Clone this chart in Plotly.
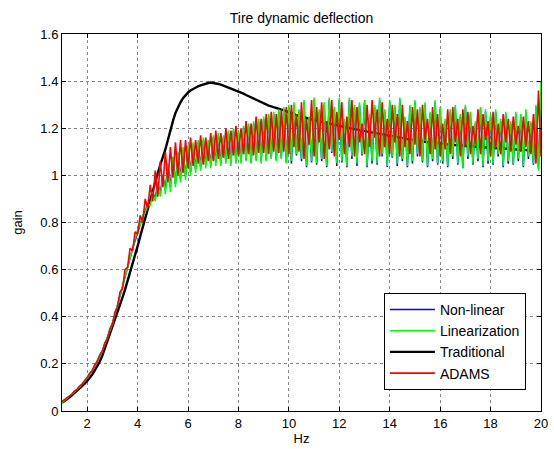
import plotly.graph_objects as go

# Frequency grid (Hz), 0.1 Hz spacing from 1 to 20
FREQ = [round(1 + 0.1 * i, 1) for i in range(191)]

NON_LINEAR = [
    0.037, 0.045, 0.053, 0.062, 0.071, 0.081, 0.091, 0.102, 0.114, 0.127,
    0.141, 0.156, 0.173, 0.191, 0.211, 0.233, 0.257, 0.283, 0.311, 0.341,
    0.372, 0.408, 0.446, 0.485, 0.525, 0.566, 0.607, 0.648, 0.688, 0.722,
    0.760, 0.795, 0.825, 0.850, 0.875, 0.890, 0.925, 0.905, 0.965, 0.925,
    1.000, 0.940, 1.045, 0.950, 1.075, 0.965, 1.095, 0.985, 1.110, 0.995,
    1.120, 1.015, 1.130, 1.025, 1.140, 1.035, 1.150, 1.045, 1.140, 1.045,
    1.160, 1.055, 1.170, 1.050, 1.160, 1.060, 1.180, 1.055, 1.190, 1.060,
    1.180, 1.060, 1.200, 1.065, 1.210, 1.055, 1.220, 1.065, 1.230, 1.060,
    1.240, 1.065, 1.250, 1.075, 1.260, 1.065, 1.270, 1.075, 1.280, 1.055,
    1.290, 1.050, 1.300, 1.085, 1.270, 1.060, 1.310, 1.035, 1.240, 1.055,
    1.320, 1.045, 1.270, 1.060, 1.300, 1.035, 1.320, 1.095, 1.280, 1.040,
    1.320, 1.055, 1.230, 1.035, 1.320, 1.070, 1.290, 1.040, 1.300, 1.085,
    1.310, 1.035, 1.250, 1.050, 1.290, 1.045, 1.320, 1.080, 1.270, 1.035,
    1.310, 1.075, 1.290, 1.040, 1.320, 1.060, 1.240, 1.035, 1.290, 1.050,
    1.310, 1.080, 1.280, 1.055, 1.300, 1.035, 1.260, 1.060, 1.310, 1.045,
    1.280, 1.050, 1.230, 1.035, 1.270, 1.070, 1.290, 1.045, 1.250, 1.030,
    1.290, 1.070, 1.260, 1.045, 1.220, 1.060, 1.280, 1.035, 1.270, 1.050,
    1.250, 1.045, 1.270, 1.080, 1.230, 1.035, 1.260, 1.050, 1.220, 1.045,
    1.260, 1.060, 1.250, 1.035, 1.270, 1.070, 1.220, 1.045, 1.290, 1.030,
    1.370,
]

LINEARIZATION = [
    0.035, 0.044, 0.052, 0.061, 0.070, 0.080, 0.090, 0.101, 0.113, 0.126,
    0.140, 0.155, 0.172, 0.190, 0.210, 0.232, 0.256, 0.282, 0.310, 0.340,
    0.370, 0.410, 0.450, 0.490, 0.530, 0.575, 0.620, 0.660, 0.700, 0.735,
    0.770, 0.790, 0.830, 0.840, 0.880, 0.870, 0.930, 0.890, 0.970, 0.910,
    1.000, 0.920, 1.050, 0.930, 1.080, 0.950, 1.100, 0.970, 1.120, 0.980,
    1.130, 1.000, 1.140, 1.010, 1.150, 1.020, 1.160, 1.030, 1.150, 1.030,
    1.170, 1.040, 1.180, 1.040, 1.170, 1.050, 1.190, 1.040, 1.200, 1.050,
    1.190, 1.050, 1.210, 1.060, 1.220, 1.050, 1.230, 1.060, 1.240, 1.050,
    1.250, 1.060, 1.260, 1.070, 1.270, 1.060, 1.280, 1.070, 1.290, 1.050,
    1.300, 1.060, 1.310, 1.090, 1.280, 1.070, 1.320, 1.040, 1.250, 1.060,
    1.330, 1.050, 1.280, 1.070, 1.310, 1.040, 1.330, 1.100, 1.290, 1.050,
    1.330, 1.060, 1.240, 1.040, 1.330, 1.080, 1.300, 1.050, 1.310, 1.090,
    1.320, 1.040, 1.260, 1.060, 1.300, 1.050, 1.330, 1.090, 1.280, 1.040,
    1.320, 1.080, 1.300, 1.050, 1.330, 1.070, 1.250, 1.040, 1.300, 1.060,
    1.320, 1.090, 1.290, 1.060, 1.310, 1.040, 1.270, 1.070, 1.320, 1.050,
    1.290, 1.060, 1.240, 1.040, 1.280, 1.080, 1.300, 1.050, 1.260, 1.030,
    1.300, 1.080, 1.270, 1.050, 1.230, 1.070, 1.290, 1.040, 1.280, 1.060,
    1.260, 1.050, 1.280, 1.090, 1.240, 1.040, 1.270, 1.060, 1.230, 1.050,
    1.270, 1.070, 1.260, 1.040, 1.280, 1.080, 1.230, 1.050, 1.300, 1.020,
    1.400,
]

TRADITIONAL = [
    0.035, 0.042, 0.050, 0.058, 0.067, 0.076, 0.085, 0.095, 0.105, 0.116,
    0.127, 0.140, 0.155, 0.172, 0.190, 0.210, 0.235, 0.265, 0.295, 0.325,
    0.355, 0.385, 0.415, 0.448, 0.482, 0.515, 0.550, 0.585, 0.620, 0.660,
    0.700, 0.740, 0.780, 0.815, 0.855, 0.895, 0.935, 0.975, 1.010, 1.045,
    1.075, 1.110, 1.150, 1.195, 1.230, 1.265, 1.290, 1.310, 1.328, 1.342,
    1.352, 1.360, 1.367, 1.373, 1.378, 1.382, 1.386, 1.389, 1.392, 1.394,
    1.393, 1.391, 1.388, 1.385, 1.381, 1.377, 1.373, 1.369, 1.366, 1.362,
    1.358, 1.352, 1.347, 1.341, 1.336, 1.330, 1.325, 1.320, 1.314, 1.309,
    1.304, 1.300, 1.296, 1.293, 1.289, 1.286, 1.282, 1.279, 1.276, 1.273,
    1.268, 1.264, 1.260, 1.256, 1.252, 1.249, 1.246, 1.243, 1.240, 1.237,
    1.234, 1.231, 1.229, 1.227, 1.225, 1.223, 1.221, 1.219, 1.216, 1.214,
    1.211, 1.208, 1.205, 1.202, 1.200, 1.198, 1.196, 1.194, 1.192, 1.189,
    1.187, 1.185, 1.183, 1.181, 1.179, 1.177, 1.175, 1.173, 1.171, 1.169,
    1.167, 1.165, 1.163, 1.160, 1.158, 1.157, 1.155, 1.153, 1.152, 1.150,
    1.148, 1.147, 1.145, 1.144, 1.142, 1.141, 1.139, 1.138, 1.137, 1.135,
    1.134, 1.133, 1.132, 1.131, 1.130, 1.129, 1.128, 1.127, 1.126, 1.125,
    1.124, 1.123, 1.122, 1.122, 1.121, 1.120, 1.119, 1.119, 1.118, 1.117,
    1.117, 1.116, 1.116, 1.115, 1.115, 1.114, 1.113, 1.113, 1.112, 1.111,
    1.110, 1.110, 1.109, 1.108, 1.107, 1.106, 1.105, 1.104, 1.103, 1.102,
    1.101,
]

ADAMS = [
    0.040, 0.048, 0.055, 0.066, 0.072, 0.085, 0.092, 0.106, 0.114, 0.130,
    0.142, 0.160, 0.172, 0.195, 0.208, 0.238, 0.252, 0.290, 0.305, 0.350,
    0.368, 0.420, 0.440, 0.505, 0.520, 0.600, 0.610, 0.690, 0.680, 0.760,
    0.750, 0.830, 0.800, 0.900, 0.860, 0.960, 0.890, 1.020, 0.910, 1.060,
    0.950, 1.100, 0.970, 1.120, 0.990, 1.140, 1.000, 1.150, 1.010, 1.150,
    1.030, 1.160, 1.040, 1.150, 1.050, 1.170, 1.045, 1.160, 1.060, 1.180,
    1.060, 1.190, 1.070, 1.180, 1.075, 1.200, 1.070, 1.190, 1.085, 1.210,
    1.085, 1.200, 1.090, 1.230, 1.090, 1.220, 1.085, 1.250, 1.095, 1.240,
    1.095, 1.260, 1.090, 1.270, 1.100, 1.260, 1.095, 1.280, 1.100, 1.290,
    1.090, 1.300, 1.120, 1.260, 1.100, 1.310, 1.070, 1.240, 1.130, 1.320,
    1.080, 1.290, 1.140, 1.310, 1.070, 1.230, 1.110, 1.320, 1.080, 1.270,
    1.150, 1.310, 1.090, 1.250, 1.120, 1.320, 1.080, 1.290, 1.140, 1.220,
    1.090, 1.300, 1.120, 1.320, 1.160, 1.280, 1.080, 1.310, 1.120, 1.240,
    1.090, 1.300, 1.140, 1.260, 1.080, 1.300, 1.120, 1.230, 1.090, 1.290,
    1.130, 1.280, 1.080, 1.300, 1.150, 1.240, 1.090, 1.290, 1.110, 1.260,
    1.080, 1.220, 1.110, 1.280, 1.090, 1.290, 1.140, 1.240, 1.080, 1.280,
    1.120, 1.270, 1.090, 1.210, 1.130, 1.280, 1.090, 1.260, 1.150, 1.230,
    1.080, 1.270, 1.110, 1.220, 1.090, 1.260, 1.140, 1.240, 1.100, 1.250,
    1.130, 1.210, 1.100, 1.250, 1.120, 1.230, 1.090, 1.260, 1.050, 1.360,
    1.080,
]

X_TICKS = [2, 4, 6, 8, 10, 12, 14, 16, 18, 20]

for arr in (NON_LINEAR, LINEARIZATION, TRADITIONAL, ADAMS):
    assert len(arr) == len(FREQ), len(arr)

FONT = "Liberation Sans, Arial, sans-serif"

fig = go.Figure()
# drawing order: blue, black, green, red (legend order fixed via legendrank)
fig.add_trace(go.Scatter(x=FREQ, y=NON_LINEAR, name="Non-linear", mode="lines",
                         legendrank=1, line=dict(color="#0000ff", width=1.5)))
fig.add_trace(go.Scatter(x=FREQ, y=TRADITIONAL, name="Traditional", mode="lines",
                         legendrank=3, line=dict(color="#000000", width=2.4)))
fig.add_trace(go.Scatter(x=FREQ, y=LINEARIZATION, name="Linearization", mode="lines",
                         legendrank=2, line=dict(color="#00ff00", width=1.5)))
fig.add_trace(go.Scatter(x=FREQ, y=ADAMS, name="ADAMS", mode="lines",
                         legendrank=4, line=dict(color="#ff0000", width=1.6)))

axis_common = dict(
    showline=True, linecolor="black", linewidth=1, mirror="allticks",
    ticks="inside", ticklen=4, tickcolor="black",
    showgrid=True, gridcolor="#858585", griddash="dot", gridwidth=1,
    zeroline=False, automargin=False,
    tickfont=dict(family=FONT, size=13, color="black"),
)

fig.update_layout(
    width=554, height=449,
    margin=dict(l=62, r=13, t=34, b=38),
    paper_bgcolor="white", plot_bgcolor="white",
    font=dict(family=FONT, size=13, color="black"),
    title=dict(text="Tire dynamic deflection", x=(62 + 541) / 2 / 554, xanchor="center",
               y=1 - 18 / 449, yanchor="middle", font=dict(size=14, family=FONT)),
    xaxis=dict(range=[1, 20], tickvals=X_TICKS,
               title=dict(text="Hz", font=dict(size=13, family=FONT), standoff=2),
               **axis_common),
    yaxis=dict(range=[0, 1.6], dtick=0.2,
               title=dict(text="gain", font=dict(size=13, family=FONT), standoff=14),
               **axis_common),
    legend=dict(x=0.672, y=0.056, xanchor="left", yanchor="bottom",
                bgcolor="white", bordercolor="black", borderwidth=1,
                font=dict(family=FONT, size=14), tracegroupgap=0,
                traceorder="normal", itemwidth=45),
    showlegend=True,
)

fig.write_html("out.html")
